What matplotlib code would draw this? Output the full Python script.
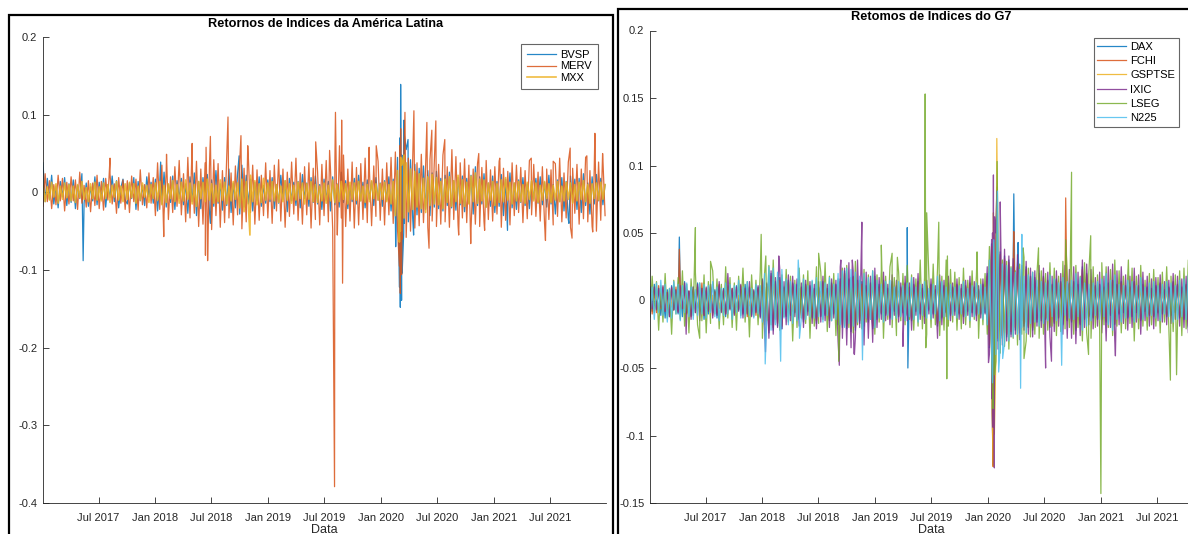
import numpy as np
import pandas as pd
import matplotlib
matplotlib.use("Agg")
import matplotlib.pyplot as plt
import matplotlib.dates as mdates
from matplotlib.patches import Rectangle

plt.rcParams["font.family"] = ["Liberation Sans", "DejaVu Sans"]
plt.rcParams["axes.unicode_minus"] = False

# ── weekly returns (in thousandths), one row per half-year ────────────────────
START, END = "2017-01-02", "2021-12-27"

bvsp = [
    38, -12, 18, -9, 22, -15, 8, -20, 14, -6, 19, -17, 11, -13, 16, -21, 9, -8, 24, -14, 12, -18, 7, -11, 20, -16,
    13, -9, 18, -19, 10, -7, 21, -12, 15, -20, 6, 17, -10, -15, 12, -8, 19, -22, 14, -11, 9, -17, 20, -6, 13, -14,
    17, -24, 12, -15, 26, -19, 10, -13, 21, -22, 15, -8, 18, -16, 11, -27, 20, -12, 25, -30, 14, -21, 19, -9, 23, -25,
    16, -18, 28, -14, 11, -23, 19, -17, 30, -26, 12, -20, 24, -28, 35, -19, 22, -15, 17, -24, 13, -11, 20, -18, 9, -14,
    16, -12, 19, -21, 10, -14, 22, -9, 15, -25, 18, -11, 13, -17, 14, -20, 23, -8, 12, -18, 19, -13, 21, -15, 10, -22,
    17, -10, 14, -24, 20, -16, 11, -19, 26, -13, 15, -21, 9, -12, 18, -15, 22, -11, 13, -20, 16, -9, 14, -17, 19, -10,
    12, -18, 15, -10, 20, -24, 17, -35, 45, -52, 48, -40, 55, -38, 42, -33, 36, -29, 31, -26, 34, -22, 28, -30, 25, -19,
    27, -21, 18, -24, 22, -17, 26, -20, 15, -23, 19, -16, 21, -25, 18, -14, 22, -28, 33, -17, 20, -15, 24, -19, 12, -18,
    21, -26, 14, -18, 23, -30, 17, -15, 25, -20, 12, -22, 16, -13, 19, -17, 11, -21, 15, -9, 18, -14, 20, -16, 13, -19,
    22, -15, 10, -28, 16, -12, 19, -24, 14, -35, 21, -13, 17, -22, 18, -26, 24, -17, 12, -28, 20, -15, 23, -11, 18, -16, 10,
]
merv = [
    -18, 24, -12, 15, -21, 10, -16, 22, -11, 18, -24, 13, -15, 20, -11, 16, -22, 26, -14, 9, -19, 15, -25, 12, -17, 22,
    -21, 14, -23, 18, -10, 24, -15, 11, -27, 19, -14, 16, -22, 15, -26, 21, -12, 17, -23, 29, -16, 10, -20, 25, -14, 19,
    -30, 38, -22, 35, -28, 28, -35, 20, -26, 33, -18, 41, -29, 24, -38, 45, -33, 36, -27, 40, -44, 30, -41, 38, -36, 35,
    -48, 42, -30, 37, -45, 28, -39, 46, -33, 25, -42, 34, -29, 40, -47, 31, -38, 44, -26, 35, -41, 29, -36, 22, -30, 38,
    -33, 28, -40, 35, -24, 42, -37, 30, -45, 26, -31, 39, -28, 44, -36, 25, -41, 33, -29, 38, -46, 31, -35, 27, -42, 36,
    -30, 41, -38, 29, -47, 35, -40, 45, -33, 48, -44, 30, -37, 39, -46, 32, -42, 37, -35, 44, -39, 28, -43, 34, -31, 40,
    -36, 30, -42, 38, -29, 45, -40, 52, -48, 60, -55, 47, -58, 44, -50, 41, -46, 38, -43, 49, -39, 35, -45, 42, -37, 40,
    -44, 36, -41, 48, -38, 33, -45, 40, -35, 46, -42, 38, -33, 43, -39, 35, -47, 30, -41, 37, -44, 32, -38, 41, -35, 29,
    -37, 33, -28, 40, -45, 31, -36, 27, -42, 38, -30, 35, -26, 32, -39, 28, -34, 41, -29, 36, -31, 26, -37, 33, -40, 30,
    -35, 29, -42, 37, -31, 44, -38, 25, -33, 39, -45, 31, -27, 36, -41, 30, -34, 45, -38, 28, -44, 33, -50, 39, -36, 42, -30,
]
mxx = [
    9, -12, 7, -10, 13, -6, 11, -14, 8, -9, 12, -7, 10, -11, 8, -13, 10, -7, 14, -9, 6, -12, 11, -8, 13, -10,
    7, -11, 12, -8, 10, -13, 9, -6, 14, -10, 8, -12, 11, -9, 13, -7, 11, -14, 8, -10, 12, -6, 9, -13, 10, -8,
    12, -10, 14, -16, 9, -13, 11, -8, 15, -12, 10, -14, 13, -11, 16, -9, 12, -15, 10, -18, 14, -8, 13, -12, 17, -10,
    11, -14, 9, -12, 16, -10, 13, -15, 8, -11, 14, -9, 12, -20, 17, -25, 14, -18, 22, -12, 15, -16, 11, -13, 18, -10,
    12, -9, 14, -11, 10, -13, 8, -12, 15, -10, 11, -14, 9, -10, 13, -8, 12, -15, 11, -9, 14, -12, 10, -13, 8, -11,
    12, -14, 9, -11, 16, -13, 10, -12, 14, -9, 11, -15, 13, -9, 12, -10, 14, -11, 8, -13, 10, -12, 15, -8, 11, -10,
    11, -9, 13, -12, 10, -15, 14, -30, 28, -40, 35, -33, 38, -25, 30, -22, 27, -19, 24, -21, 18, -26, 20, -17, 23, -15,
    19, -16, 14, -21, 17, -13, 20, -18, 15, -12, 22, -14, 16, -18, 13, -15, 21, -12, 25, -14, 17, -11, 16, -19, 12, -10,
    14, -17, 11, -13, 16, -12, 19, -10, 13, -15, 12, -11, 14, -12, 10, -14, 13, -9, 15, -11, 12, -13, 9, -10, 14, -8,
    11, -13, 9, -10, 14, -12, 8, -11, 13, -9, 12, -14, 10, -11, 13, -9, 15, -12, 10, -14, 11, -8, 12, -10, 13, -9, 10,
]

dax = [
    10, -8, 12, -6, 9, -11, 7, -13, 8, -9, 11, -7, 6, -10, 8, -12, 14, -9, 7, -11, 10, -6, 13, -8, 9, -14,
    7, -10, 12, -9, 8, -13, 11, -7, 9, -12, 10, -6, 8, -9, 11, -7, 8, -10, 12, -6, 9, -11, 7, -8, 10, -12,
    15, -18, 12, -24, 20, -22, 14, -19, 17, -21, 10, -12, 15, -11, 13, -9, 12, -14, 10, -16, 12, -8, 11, -13, 9, -17,
    10, -12, 14, -11, 9, -15, 13, -10, 12, -18, 16, -20, 22, -21, 16, -23, 18, -22, 15, -17, 14, -19, 11, -16, 13, -21,
    18, -14, 12, -10, 15, -11, 9, -13, 14, -8, 11, -12, 10, -9, 13, -11, 10, -15, 12, -8, 14, -10, 9, -12, 11, -7,
    12, -10, 8, -19, 14, -13, 11, -9, 13, -11, 10, -8, 12, -10, 9, -12, 11, -8, 13, -9, 10, -11, 8, -10, 12, -9,
    20, -35, 42, -38, 45, -30, 36, -28, 33, -27, 30, -25, 28, -22, 26, -24, 21, -19, 25, -20, 18, -22, 17, -16, 20, -15,
    18, -14, 15, -20, 12, -17, 16, -13, 14, -18, 11, -15, 13, -16, 14, -22, 12, -18, 25, -14, 20, -12, 15, -13, 11, -14,
    12, -14, 10, -16, 13, -11, 15, -18, 12, -10, 14, -9, 11, -13, 10, -12, 14, -9, 11, -15, 12, -8, 10, -11, 9, -12,
    11, -9, 13, -10, 8, -12, 10, -11, 14, -9, 12, -13, 10, -14, 12, -20, 15, -11, 13, -18, 17, -12, 14, -16, 11, -13, 9,
]
fchi = [
    8, -10, 7, -9, 11, -6, 10, -8, 6, -12, 9, -7, 10, -8, 11, -6, 9, -10, 7, -12, 8, -9, 10, -7, 13, -11,
    9, -7, 10, -11, 6, -9, 12, -8, 7, -10, 11, -6, 9, -10, 8, -6, 11, -9, 7, -12, 10, -8, 6, -11, 9, -7,
    14, -16, 10, -22, 18, -20, 12, -17, 15, -19, 9, -11, 13, -10, 12, -8, 11, -13, 9, -14, 11, -7, 10, -12, 8, -15,
    9, -11, 13, -10, 8, -14, 12, -9, 11, -16, 14, -18, 20, -19, 15, -21, 17, -20, 13, -15, 12, -17, 10, -14, 12, -19,
    16, -12, 10, -9, 13, -10, 8, -12, 12, -7, 10, -11, 9, -8, 12, -10, 9, -14, 11, -7, 13, -9, 8, -11, 10, -6,
    11, -9, 7, -17, 13, -12, 10, -8, 12, -10, 9, -7, 11, -9, 8, -11, 10, -7, 12, -8, 9, -10, 7, -9, 11, -6,
    18, -33, 40, -36, 42, -28, 34, -26, 31, -25, 28, -23, 26, -20, 25, -22, 19, -17, 23, -19, 17, -20, 15, -14, 18, -13,
    17, -13, 14, -19, 11, -16, 15, -12, 13, -17, 10, -14, 12, -15, 13, -21, 11, -17, 23, -13, 19, -11, 14, -12, 10, -13,
    11, -13, 9, -15, 12, -10, 14, -17, 11, -9, 13, -8, 10, -12, 9, -11, 13, -8, 10, -14, 11, -7, 9, -10, 8, -11,
    10, -8, 12, -9, 7, -11, 9, -10, 13, -8, 11, -12, 9, -13, 11, -19, 14, -10, 12, -17, 16, -11, 13, -15, 10, -12, 8,
]
gsptse = [
    -5, 7, -4, 6, -8, 5, -6, 4, -7, 8, -5, 6, -4, 5, -7, 4, -6, 8, -5, 6, -7, 3, -5, 7, -4, 6,
    -6, 5, -7, 4, -5, 8, -6, 5, -4, 7, -6, 4, -5, 6, -5, 4, -7, 5, -6, 7, -4, 5, -6, 4, -5, 7,
    -8, 10, -6, 14, -11, 12, -8, 10, -10, 11, -6, 7, -9, 7, -8, 5, -7, 9, -6, 8, -7, 5, -6, 8, -5, 9,
    -6, 7, -8, 6, -5, 9, -7, 6, -8, 10, -9, 11, -12, 13, -10, 15, -11, 12, -9, 10, -8, 11, -7, 9, -8, 13,
    -10, 7, -8, 6, -9, 7, -5, 8, -7, 5, -6, 7, -5, 6, -7, 5, -6, 9, -7, 4, -8, 6, -5, 7, -6, 4,
    -7, 5, -4, 11, -8, 7, -6, 5, -7, 6, -5, 4, -6, 5, -6, 7, -5, 4, -7, 5, -6, 6, -4, 5, -7, 4,
    -12, 30, -38, 35, -40, 28, -30, 22, -24, 18, -20, 15, -19, 16, -22, 18, -15, 12, -16, 13, -14, 12, -11, 10, -13, 9,
    -12, 9, -10, 13, -8, 11, -10, 8, -9, 12, -7, 10, -8, 10, -9, 14, -8, 12, -16, 9, -13, 8, -10, 8, -7, 9,
    -8, 10, -6, 11, -9, 7, -10, 12, -8, 6, -9, 5, -7, 8, -6, 7, -9, 5, -7, 9, -8, 5, -6, 7, -5, 8,
    -7, 5, -8, 6, -5, 7, -6, 7, -9, 5, -7, 8, -6, 9, -7, 12, -9, 7, -8, 11, -10, 7, -8, 10, -6, 8, -5,
]
ixic = [
    8, -6, 10, -7, 9, -5, 11, -8, 6, -12, 10, -7, 8, -9, 11, -6, 13, -8, 7, -14, 10, -9, 12, -15, 9, -11,
    10, -8, 12, -13, 7, -11, 14, -9, 8, -10, 20, -7, 9, -11, 10, -8, 12, -13, 9, -10, 14, -12, 8, -9, 11, -13,
    16, -22, 13, -28, 22, -25, 17, -20, 24, -21, 14, -18, 19, -15, 18, -12, 16, -19, 13, -20, 15, -11, 14, -17, 12, -21,
    14, -16, 18, -15, 12, -20, 16, -13, 15, -30, 25, -28, 24, -33, 28, -35, 22, -27, 30, -20, 25, -33, 21, -28, 18, -31,
    24, -20, 17, -14, 21, -15, 12, -18, 19, -11, 15, -16, 13, -12, 18, -15, 13, -22, 17, -11, 20, -14, 12, -17, 15, -10,
    16, -13, 11, -28, 19, -18, 15, -12, 18, -15, 13, -11, 16, -14, 12, -17, 15, -11, 18, -12, 14, -15, 11, -13, 16, -10,
    25, -40, 45, -48, 50, -36, 40, -33, 38, -30, 33, -27, 31, -25, 34, -29, 26, -22, 29, -25, 24, -27, 22, -19, 26, -20,
    24, -19, 21, -27, 18, -23, 22, -19, 20, -25, 26, -28, 23, -28, 25, -32, 21, -26, 30, -20, 27, -18, 23, -21, 17, -19,
    21, -24, 18, -30, 25, -20, 27, -30, 22, -18, 25, -17, 19, -22, 18, -20, 24, -16, 19, -25, 21, -15, 18, -19, 16, -21,
    17, -15, 19, -16, 14, -18, 15, -17, 20, -14, 18, -19, 16, -20, 18, -24, 21, -17, 19, -23, 22, -18, 20, -22, 16, -19, 14,
]
lseg = [
    -12, 18, -9, 14, -22, 11, -16, 20, -13, 9, -25, 15, -10, 17, -14, 22, -19, 12, -24, 16, -11, 21, -18, 13, -15, 19,
    -24, 14, -17, 22, -10, 16, -21, 12, -18, 25, -13, 17, -20, 13, -22, 18, -11, 24, -16, 14, -27, 19, -12, 15, -18, 21,
    -28, 20, -15, 26, -18, 30, -14, 17, -22, 19, -12, 23, -16, 18, -30, 15, -20, 24, -13, 19, -17, 22, -28, 14, -19, 25,
    -17, 21, -14, 28, -23, 18, -15, 20, -26, 16, -12, 24, -19, 26, -20, 17, -24, 29, -18, 15, -21, 23, -16, 19, -14, 22,
    -25, 19, -16, 22, -28, 18, -14, 25, -20, 17, -26, 21, -15, 20, -18, 26, -14, 19, -22, 16, -19, 30, -21, 17, -25, 18,
    -20, 27, -18, 24, -26, 18, -22, 30, -19, 23, -16, 21, -22, 17, -21, 24, -18, 15, -20, 22, -14, 19, -28, 16, -18, 20,
    -25, 40, -38, 43, -45, 35, -39, 30, -34, 29, -36, 25, -28, 22, -33, 27, -25, 32, -30, 24, -27, 21, -25, 20, -28, 22,
    -25, 20, -22, 28, -19, 24, -26, 18, -23, 29, -21, 19, -20, 22, -25, 26, -20, 18, -30, 28, -24, 21, -28, 25, -20, 19,
    -22, 28, -18, 25, -20, 23, -26, 30, -19, 22, -24, 18, -21, 20, -17, 24, -30, 18, -21, 26, -19, 15, -22, 20, -18, 23,
    -19, 17, -24, 21, -16, 25, -20, 18, -23, 19, -17, 22, -26, 24, -21, 30, -18, 26, -23, 22, -19, 17, -24, 20, -16, 21, -18,
]
n225 = [
    -12, 10, -14, 13, -9, 15, -11, 12, -16, 9, -13, 14, -10, 12, -15, 11, -9, 13, -12, 10, -14, 8, -11, 13, -10, 12,
    -13, 11, -9, 14, -12, 10, -15, 9, -11, 13, -10, 12, -14, 11, -9, 15, -13, 10, -12, 14, -11, 9, -13, 12, -10, 11,
    -16, 20, -14, 25, -22, 24, -18, 21, -15, 23, -13, 16, -18, 14, -17, 12, -15, 18, -13, 16, -14, 11, -12, 15, -13, 17,
    -12, 14, -16, 13, -11, 17, -15, 12, -14, 20, -18, 22, -20, 24, -17, 23, -19, 21, -16, 18, -15, 20, -13, 17, -14, 22,
    -20, 15, -13, 12, -16, 14, -11, 15, -14, 10, -13, 14, -12, 11, -15, 13, -12, 17, -14, 10, -16, 12, -11, 14, -13, 9,
    -14, 12, -10, 18, -15, 14, -12, 10, -14, 12, -11, 10, -13, 11, -10, 14, -12, 9, -15, 11, -12, 13, -10, 12, -14, 10,
    -18, 30, -35, 38, -40, 30, -34, 27, -31, 26, -30, 24, -27, 21, -25, 23, -20, 18, -24, 19, -17, 21, -16, 15, -19, 14,
    -17, 13, -15, 19, -12, 16, -15, 13, -14, 17, -11, 14, -13, 15, -14, 20, -12, 17, -22, 13, -19, 12, -15, 13, -11, 14,
    -14, 16, -12, 20, -18, 15, -22, 19, -14, 12, -16, 11, -13, 15, -12, 14, -16, 11, -13, 17, -14, 10, -12, 13, -11, 14,
    -13, 11, -15, 12, -10, 14, -12, 13, -16, 11, -14, 15, -12, 16, -14, 19, -16, 13, -15, 18, -17, 14, -15, 17, -12, 15, -11,
]

# ── single-day moves (in thousandths) ─────────────────────────────────────────
bvsp_day = ["2017-05-12", "2018-01-18", "2018-06-28", "2018-09-29", "2020-02-18", "2020-03-01",
            "2020-03-02", "2020-03-03", "2020-03-04", "2020-03-05", "2020-03-08", "2020-03-09",
            "2020-03-10", "2020-03-15", "2020-03-16", "2020-03-17", "2020-03-29", "2020-04-16",
            "2021-02-14", "2021-09-01"]
bvsp_move = [-88, 39, -40, 47, -70, -122, 70, -76, -148, 139, -139, 48, -104, -52, 93, 74, 68, -55, -49, -40]

merv_day = ["2017-08-07", "2018-01-28", "2018-02-06", "2018-04-30", "2018-06-12", "2018-06-14",
            "2018-06-19", "2018-06-28", "2018-08-24", "2018-10-05", "2018-10-27", "2019-06-04",
            "2019-07-19", "2019-08-04", "2019-08-07", "2019-08-13", "2019-08-20", "2019-08-27",
            "2019-08-30", "2019-11-24", "2019-12-17", "2020-03-01", "2020-03-04", "2020-03-05",
            "2020-03-08", "2020-03-10", "2020-03-19", "2020-04-17", "2020-05-29", "2020-06-05",
            "2020-06-14", "2020-06-27", "2020-07-26", "2020-08-18", "2020-09-09", "2020-10-18",
            "2020-11-13", "2020-12-02", "2021-01-20", "2021-05-02", "2021-06-17", "2021-07-12",
            "2021-09-05", "2021-09-11", "2021-10-29", "2021-11-17", "2021-11-24", "2021-12-19"]
merv_move = [44, -57, 49, 63, -81, 58, -88, 72, 97, 73, 60, 65,
             54, -379, 103, -55, 60, 93, -117, 58, 60, -95, -130, 82,
             -106, -60, 103, 105, 90, -72, 80, 92, 68, 55, -55, -66,
             50, -49, 44, 44, -62, 40, 57, -59, 47, -51, 76, 50]

mxx_day = ["2018-11-03", "2020-03-01", "2020-03-04", "2020-03-05", "2020-03-16"]
mxx_move = [-55, -64, -50, 45, 48]

dax_day = ["2017-04-07", "2019-04-15", "2019-04-17", "2020-01-15", "2020-01-18", "2020-01-22",
           "2020-01-30", "2020-03-25", "2020-04-08"]
dax_move = [47, 54, -50, -79, -122, -53, 70, 79, 43]

fchi_day = ["2017-04-07", "2020-01-15", "2020-01-18", "2020-01-30", "2020-03-25", "2020-09-09"]
fchi_move = [38, -84, -123, 84, 51, 76]

gsptse_day = ["2020-01-18", "2020-01-19", "2020-01-22", "2020-01-30"]
gsptse_move = [-123, 65, -99, 120]

ixic_day = ["2017-04-29", "2018-01-11", "2018-02-23", "2018-09-07", "2018-09-12", "2018-10-19",
            "2018-10-24", "2018-10-26", "2018-11-19", "2019-04-01", "2020-01-03", "2020-01-15",
            "2020-01-16", "2020-01-18", "2020-01-19", "2020-01-22", "2020-01-23", "2020-01-30",
            "2020-02-10", "2020-07-06", "2020-07-25", "2021-02-17"]
ixic_move = [-25, -38, 33, -48, 30, 30, -39, -40, 58, -34, -46, -73,
             50, -94, 93, -124, 62, 81, 73, -50, -45, -41]

lseg_day = ["2017-05-29", "2017-06-12", "2017-07-17", "2017-12-28", "2018-01-12", "2018-07-02",
            "2018-09-05", "2019-01-21", "2019-02-25", "2019-03-14", "2019-06-12", "2019-06-14",
            "2019-06-17", "2019-07-26", "2019-08-21", "2019-08-23", "2019-11-27", "2020-01-15",
            "2020-01-18", "2020-01-31", "2020-01-23", "2020-04-24", "2020-04-27", "2020-06-13",
            "2020-09-09", "2020-09-28", "2020-11-22", "2020-11-29", "2021-01-01", "2021-03-31",
            "2021-08-14", "2021-09-03"]
lseg_move = [54, -28, 29, 49, 33, 35, -45, 41, 35, 32, 153, -35,
             65, 58, -58, 33, 36, -60, -80, 103, -55, 39, -43, 39,
             45, 95, -40, 48, -143, 30, -59, -55]

n225_day = ["2018-01-10", "2018-03-01", "2018-04-27", "2018-05-01", "2018-11-21", "2020-01-16",
            "2020-01-20", "2020-02-01", "2020-02-05", "2020-02-18", "2020-04-16", "2020-04-20",
            "2020-08-27"]
n225_move = [-47, -45, 30, -28, -44, -61, 45, 81, -53, -43, -65, 49, -48]

LATAM = ["BVSP", "MERV", "MXX"]
G7 = ["DAX", "FCHI", "GSPTSE", "IXIC", "LSEG", "N225"]


def series(weekly, days, moves):
    """Weekly grid plus the big single-day moves, merged in date order."""
    idx = pd.date_range(START, END, periods=len(weekly))
    s = pd.Series(np.asarray(weekly) / 1000.0, index=idx)
    e = pd.Series(np.asarray(moves) / 1000.0, index=pd.to_datetime(days))
    return pd.concat([s, e]).sort_index()


latam = [series(bvsp, bvsp_day, bvsp_move),
         series(merv, merv_day, merv_move),
         series(mxx, mxx_day, mxx_move)]
g7 = [series(dax, dax_day, dax_move),
      series(fchi, fchi_day, fchi_move),
      series(gsptse, gsptse_day, gsptse_move),
      series(ixic, ixic_day, ixic_move),
      series(lseg, lseg_day, lseg_move),
      series(n225, n225_day, n225_move)]

# MATLAB default line order
C_LATAM = ["#0072BD", "#D95319", "#EDB120"]
C_G7 = ["#0072BD", "#D95319", "#EDB120", "#7E2F8E", "#77AC30", "#4DBEEE"]

W, H = 1188, 534
fig = plt.figure(figsize=(W / 100, H / 100), dpi=100)
fig.patch.set_facecolor("white")


def px(x0, y_top, x1, y_bot):
    return [x0 / W, 1 - y_bot / H, (x1 - x0) / W, (y_bot - y_top) / H]


# two window frames
fig.add_artist(Rectangle((8.5 / W, -0.05), (613 - 8.5) / W, 1.05 - 14.8 / H,
                         transform=fig.transFigure, fill=False, ec="black", lw=1.6))
fig.add_artist(Rectangle((617.5 / W, -0.05), 0.6, 1.05 - 8.6 / H,
                         transform=fig.transFigure, fill=False, ec="black", lw=1.6))

ax1 = fig.add_axes(px(43, 37, 606, 503))
ax2 = fig.add_axes(px(650, 30.5, 1213, 503))

xticks = pd.to_datetime(["2017-07-01", "2018-01-01", "2018-07-01", "2019-01-01", "2019-07-01",
                         "2020-01-01", "2020-07-01", "2021-01-01", "2021-07-01"])


def style(ax, ylo, yhi, step):
    ax.set_xlim(pd.Timestamp("2017-01-02"), pd.Timestamp("2021-12-30"))
    ax.set_ylim(ylo, yhi)
    ax.set_xticks(xticks)
    ax.xaxis.set_major_formatter(mdates.DateFormatter("%b %Y"))
    yt = np.round(np.arange(ylo, yhi + step / 2, step), 3)
    ax.set_yticks(yt)
    ax.set_yticklabels([("0" if abs(v) < 1e-9 else f"{v:g}") for v in yt])
    for side in ("top", "right"):
        ax.spines[side].set_visible(False)
    for side in ("left", "bottom"):
        ax.spines[side].set_color("#262626")
        ax.spines[side].set_linewidth(0.6)
    ax.tick_params(direction="in", length=4, width=0.6, colors="#262626", labelsize=8)
    ax.tick_params(axis="x", pad=7)
    ax.tick_params(axis="y", pad=4)
    ax.set_xlabel("Data", fontsize=9, color="#262626", labelpad=1)


style(ax1, -0.4, 0.2, 0.1)
style(ax2, -0.15, 0.2, 0.05)

for s, name, c in zip(latam, LATAM, C_LATAM):
    lw = 1.2 if name == "MXX" else 0.9
    ax1.plot(s.index, s.values, color=c, lw=lw, alpha=0.85, label=name)
for s, name, c in zip(g7, G7, C_G7):
    ax2.plot(s.index, s.values, color=c, lw=0.9, alpha=0.85, label=name)

fig.text(325.5 / W, 1 - 24 / H, "Retornos de Indices da América Latina",
         ha="center", va="center", fontsize=9.2, fontweight="bold")
fig.text(931 / W, 1 - 17 / H, "Retomos de Indices do G7",
         ha="center", va="center", fontsize=9.2, fontweight="bold")

leg_kw = dict(loc="upper right", bbox_transform=fig.transFigure, fontsize=8,
              frameon=True, fancybox=False, framealpha=1, edgecolor="#666666",
              handlelength=2.6, handletextpad=0.35, borderaxespad=0)
l1 = ax1.legend(bbox_to_anchor=(598 / W, 1 - 44 / H), labelspacing=0.12,
                borderpad=0.55, **leg_kw)
l2 = ax2.legend(bbox_to_anchor=(1179 / W, 1 - 38 / H), labelspacing=0.38,
                borderpad=0.35, **leg_kw)
for lg in (l1, l2):
    lg.get_frame().set_linewidth(0.8)

fig.savefig("out.png", dpi=100, facecolor="white")
